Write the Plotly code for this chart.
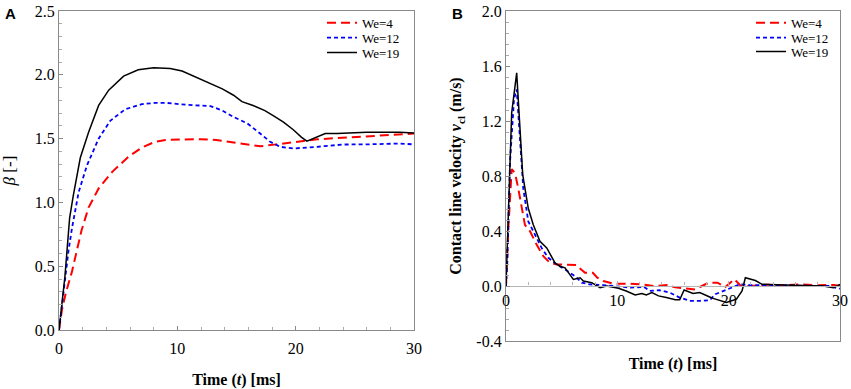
import plotly.graph_objects as go

# ---------------- data ----------------
# Panel A: spreading factor beta vs time
tA_we4 = [0, 0.25, 0.6, 1.1, 1.5, 1.9, 2.5, 3.35, 4.5, 5.9, 7.0, 8.1, 9.0, 10.5, 12.0, 13.3, 14.5,
          15.5, 17.0, 18.4, 19.8, 21.8, 24.6, 27.4, 30]
bA_we4 = [0, 0.16, 0.30, 0.46, 0.62, 0.78, 0.96, 1.11, 1.24, 1.36, 1.43, 1.475, 1.49, 1.492, 1.496,
          1.49, 1.475, 1.46, 1.44, 1.455, 1.47, 1.495, 1.51, 1.525, 1.54]

tA_we12 = [0, 0.4, 0.8, 1.1, 1.66, 2.36, 3.35, 4.33, 5.6, 7.0, 8.1, 9.1, 10.8, 12.8, 13.8, 14.75,
           15.9, 17.0, 17.85, 18.7, 19.8, 21.8, 24.0, 26.0, 28.8, 30]
bA_we12 = [0, 0.31, 0.62, 0.80, 1.08, 1.29, 1.50, 1.64, 1.73, 1.77, 1.78, 1.78, 1.765, 1.755, 1.72,
           1.67, 1.62, 1.54, 1.475, 1.436, 1.423, 1.436, 1.454, 1.455, 1.462, 1.455]

tA_we19 = [0, 0.5, 0.9, 1.2, 1.8, 2.5, 3.35, 4.2, 5.46, 6.7, 8.0, 9.4, 10.4, 11.65, 12.6, 13.8,
           14.75, 15.46, 16.4, 17.4, 18.1, 18.97, 19.8, 20.5, 20.95, 21.65, 22.5, 23.5, 26, 28.8, 30]
bA_we19 = [0, 0.42, 0.88, 1.05, 1.35, 1.55, 1.76, 1.88, 1.99, 2.04, 2.055, 2.05, 2.03, 1.98, 1.94,
           1.89, 1.84, 1.79, 1.76, 1.72, 1.68, 1.63, 1.57, 1.51, 1.48, 1.51, 1.54, 1.54, 1.55, 1.55, 1.545]

# Panel B: contact line velocity vs time
tB_we4 = [0, 0.21, 0.51, 0.81, 1.1, 1.41, 1.7, 2.16, 2.76, 3.35, 3.95, 4.55, 5.45, 6.35, 6.6, 7.1,
          7.8, 8.2, 8.75, 9.6, 10.9, 12.1, 13.3, 14.5, 15.2, 16.2, 17.0, 17.6, 18.2, 19.0, 19.7,
          20.5, 21.1, 22.0, 23.5, 25.0, 26.5, 28.0, 29.5, 30]
vB_we4 = [0, 0.42, 0.85, 0.82, 0.71, 0.565, 0.445, 0.397, 0.30, 0.217, 0.168, 0.157, 0.157, 0.152,
          0.13, 0.096, 0.096, 0.06, 0.036, 0.017, 0.017, 0.012, 0.0, 0.007, -0.01, -0.02, -0.025,
          0.0, 0.024, 0.024, -0.008, 0.05, 0.0, 0.0, 0.01, 0.005, 0.012, 0.005, 0.008, 0.0]

tB_we12 = [0, 0.12, 0.36, 0.72, 0.96, 1.26, 1.55, 2.0, 2.6, 3.2, 3.8, 4.55, 5.3, 6.2, 6.8, 7.5, 8.7,
           9.95, 11.2, 12.4, 12.9, 13.8, 14.7, 15.6, 16.5, 17.4, 18.3, 18.8, 19.5, 20.2, 21.0, 21.9,
           23.4, 25, 27, 29, 30]
vB_we12 = [0, 0.18, 0.9, 1.36, 1.43, 1.02, 0.71, 0.47, 0.373, 0.277, 0.205, 0.157, 0.12, 0.072,
           0.024, 0.012, 0.007, 0.0, -0.012, -0.007, -0.036, -0.031, -0.048, -0.084, -0.108, -0.108,
           -0.103, -0.06, -0.036, -0.012, 0.012, 0.007, 0.005, 0.005, 0.0, 0.0, -0.02]

tB_we19 = [0, 0.51, 0.96, 1.5, 2.0, 2.45, 3.05, 3.66, 4.4, 4.85, 5.3, 6.05, 6.65, 6.95, 7.7, 8.45,
           9.05, 10.1, 10.8, 11.6, 12.2, 12.6, 13.1, 13.7, 14.4, 15.2, 15.6, 16.0, 16.8, 17.4, 18.3,
           18.6, 19.8, 20.7, 21.2, 21.5, 22.4, 23.0, 25.0, 27.0, 28.5, 29.4, 30]
vB_we19 = [0, 1.26, 1.55, 0.81, 0.565, 0.445, 0.325, 0.277, 0.168, 0.144, 0.132, 0.048, 0.06, 0.036,
           0.024, -0.012, 0.0, -0.017, -0.036, -0.065, -0.055, -0.065, -0.048, -0.072, -0.084, -0.1,
           -0.1, -0.029, -0.055, -0.048, -0.08, -0.09, -0.12, -0.096, -0.036, 0.06, 0.04, 0.012,
           0.008, 0.004, 0.0, -0.012, 0.012]

series_names = ["We=4", "We=12", "We=19"]
yA_ticks = [0.0, 0.5, 1.0, 1.5, 2.0, 2.5]
yB_ticks = [-0.4, 0.0, 0.4, 0.8, 1.2, 1.6, 2.0]
yB_ticklabels = ["-0.4", "0.0", "0.4", "0.8", "1.2", "1.6", "2.0"]
x_ticks = [0, 10, 20, 30]

# ---------------- styling ----------------
W, H = 851, 389
ML, MR, MT, MB = 59, 11, 8, 48
PW, PH = W - ML - MR, H - MT - MB


def fx(p):
    return (p - ML) / PW


def fy(p):
    return (H - MB - p) / PH


styles = [
    dict(color="#ff0000", width=2, dash="9px,5px"),
    dict(color="#0000ff", width=1.8, dash="4px,3px"),
    dict(color="#000000", width=1.5, dash="solid"),
]
SERIF = "Liberation Serif"
AXC = "#8a8a8a"
legA = ["legend", "legend2", "legend3"]
legB = ["legend4", "legend5", "legend6"]
rowsA = [20, 35, 50]
rowsB = [20, 35, 49]

fig = go.Figure()
for name, t, v, st, lg in zip(series_names, [tA_we4, tA_we12, tA_we19], [bA_we4, bA_we12, bA_we19], styles, legA):
    fig.add_trace(go.Scatter(x=t, y=v, mode="lines", name=name, line=st, showlegend=True,
                             xaxis="x", yaxis="y", legend=lg))
for name, t, v, st, lg in zip(series_names, [tB_we4, tB_we12, tB_we19], [vB_we4, vB_we12, vB_we19], styles, legB):
    fig.add_trace(go.Scatter(x=t, y=v, mode="lines", name=name, line=st, showlegend=True,
                             xaxis="x2", yaxis="y2", legend=lg))
# empty trace so the zero-crossing time axis of panel B is rendered
fig.add_trace(go.Scatter(x=[], y=[], mode="lines", xaxis="x3", yaxis="y2",
                         showlegend=False, hoverinfo="skip"))

tickfont = dict(family=SERIF, size=16, color="black")
titlefont = dict(family=SERIF, size=16, color="black")
common = dict(showgrid=False, zeroline=False, showline=True, mirror=True, linecolor=AXC,
              linewidth=1.3, automargin=False)

legends = {}
for lg, r in zip(legA, rowsA):
    legends[lg] = dict(x=fx(322), y=fy(r), xanchor="left", yanchor="middle", bgcolor="rgba(0,0,0,0)",
                       font=dict(family=SERIF, size=13, color="black"), itemwidth=30)
for lg, r in zip(legB, rowsB):
    legends[lg] = dict(x=fx(751), y=fy(r), xanchor="left", yanchor="middle", bgcolor="rgba(0,0,0,0)",
                       font=dict(family=SERIF, size=13, color="black"), itemwidth=30)

fig.update_layout(
    width=W, height=H,
    showlegend=True,
    margin=dict(l=ML, r=MR, t=MT, b=MB),
    paper_bgcolor="white", plot_bgcolor="white",
    xaxis=dict(domain=[0, fx(414)], range=[0, 30], anchor="y", tickvals=x_ticks,
               ticks="inside", ticklen=4, tickcolor=AXC, tickfont=tickfont, ticklabelstandoff=4,
               minor=dict(tickmode="linear", tick0=0, dtick=2, ticks="inside", ticklen=3, tickcolor="#aaaaaa"),
               title=dict(text="<b>Time (<i>t</i>) [ms]</b>", font=titlefont, standoff=18), **common),
    yaxis=dict(domain=[fy(330), 1], range=[0, 2.5], anchor="x", tickvals=yA_ticks, tickformat=".1f",
               ticks="inside", ticklen=4, tickcolor=AXC, tickfont=tickfont,
               minor=dict(tickmode="linear", tick0=0, dtick=0.1, ticks="inside", ticklen=3, tickcolor="#aaaaaa"),
               title=dict(text="<i>β</i> [-]", font=dict(family=SERIF, size=17, color="black"), standoff=22),
               **common),
    xaxis2=dict(domain=[fx(506), 1], range=[0, 30], anchor="y2", showticklabels=False, ticks="",
                title=dict(text="<b>Time (<i>t</i>) [ms]</b>", font=titlefont, standoff=16), **common),
    xaxis3=dict(overlaying="x2", anchor="free", position=fy(285), range=[0, 30], tickvals=x_ticks,
                showgrid=False, zeroline=False, showline=True, linecolor="#b5b5b5", linewidth=1.2,
                ticks="inside", ticklen=4, tickcolor="#b5b5b5", tickfont=tickfont, automargin=False,
                minor=dict(tickmode="linear", tick0=0, dtick=2, ticks="inside", ticklen=3, tickcolor="#b5b5b5")),
    yaxis2=dict(domain=[0, 1], range=[-0.4, 2.0], anchor="x2", tickvals=yB_ticks, ticktext=yB_ticklabels,
                ticks="inside", ticklen=4, tickcolor=AXC, tickfont=tickfont,
                minor=dict(tickmode="linear", tick0=0, dtick=0.08, ticks="inside", ticklen=3, tickcolor="#aaaaaa"),
                title=dict(text="<b>Contact line velocity <i>v</i><sub>cl</sub> (m/s)</b>", font=titlefont,
                           standoff=10),
                **common),
    annotations=[
        dict(text="<b>A</b>", x=fx(10), y=fy(11), xref="paper", yref="paper", showarrow=False,
             xanchor="center", yanchor="middle", font=dict(family="Liberation Sans", size=15, color="black")),
        dict(text="<b>B</b>", x=fx(457), y=fy(11), xref="paper", yref="paper", showarrow=False,
             xanchor="center", yanchor="middle", font=dict(family="Liberation Sans", size=15, color="black")),
    ],
    **legends,
)

fig.write_html("out.html", config={"displayModeBar": False},
               post_script="document.body.style.margin='0px';document.body.style.overflow='hidden';")
